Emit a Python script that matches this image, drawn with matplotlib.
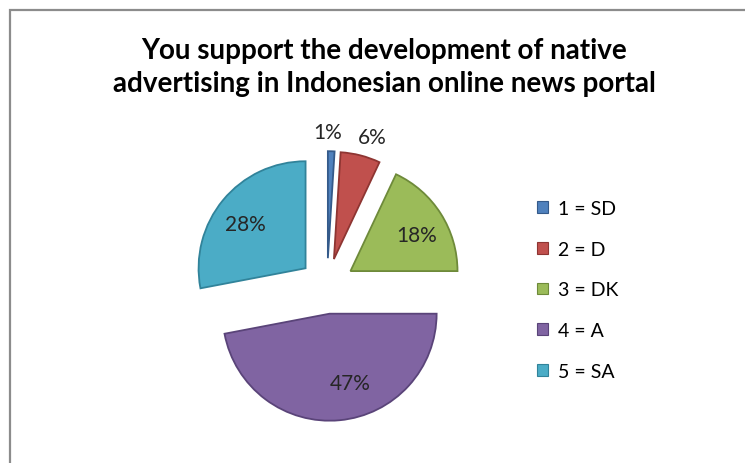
import numpy as np
import matplotlib.pyplot as plt
from matplotlib.patches import Rectangle, Patch

plt.rcParams['font.family'] = ['Lato', 'DejaVu Sans']

#------------- data ---------------------
categories = ['1 = SD', '2 = D', '3 = DK', '4 = A', '5 = SA']
shares = [1, 6, 18, 47, 28]
title = 'You support the development of native\nadvertising in Indonesian online news portal'

# office-style palette + darker rims
colors = ['#4F81BD', '#C0504D', '#9BBB59', '#8064A2', '#4BACC6']
edges = ['#345A8A', '#8E3532', '#6E8A3A', '#5A4479', '#31839A']

fig = plt.figure(figsize=(7.45, 4.64), dpi=100)

# ---- pie axes (square box in pixels) ----
R = 1.6
px = 107 * R
cx, cy = 327, 287
ax = fig.add_axes([(cx - px) / 745, (464 - cy - px) / 464, 2 * px / 745, 2 * px / 464])

expl = 0.26
wedges, _ = ax.pie(shares, colors=colors, startangle=90, counterclock=False,
                   explode=[expl] * len(shares), wedgeprops=dict(linewidth=1.3))
for w, ec in zip(wedges, edges):
    w.set_edgecolor(ec)
ax.set_xlim(-R, R)
ax.set_ylim(-R, R)

# ---- percentage labels ----
lab_dist = [1.18, 1.20, 0.70, 0.68, 0.70]   # small slices get labels outside
lab_turn = [2, -3, -4, 11, 3]                # degrees
for w, s, d, t in zip(wedges, shares, lab_dist, lab_turn):
    mid = np.deg2rad((w.theta1 + w.theta2) / 2)
    ox, oy = expl * np.cos(mid), expl * np.sin(mid)
    a = mid + np.deg2rad(t)
    ax.text(ox + d * np.cos(a), oy + d * np.sin(a), f'{s}%', ha='center', va='center',
            fontsize=15, color='#262626')

# ---- title ----
fig.text(0.516, 1 - 38 / 464, title, ha='center', va='top', fontsize=20,
         fontweight='bold', linespacing=1.32, color='black')

# ---- legend ----
handles = [Patch(facecolor=c, edgecolor=ec, linewidth=0.8) for c, ec in zip(colors, edges)]
fig.legend(handles=handles, labels=categories, loc='upper left',
           bbox_to_anchor=(537 / 745, 1 - 201 / 464), frameon=False, fontsize=14,
           handlelength=0.55, handleheight=0.55, handletextpad=0.55, labelspacing=1.22,
           borderpad=0, borderaxespad=0)

# ---- chart area border ----
fig.add_artist(Rectangle((10 / 745, -0.1), 1.2, (464 - 11) / 464 + 0.1,
                         transform=fig.transFigure, fill=False,
                         edgecolor='#8c8c8c', linewidth=1.6))

plt.savefig('out.png', dpi=100)
